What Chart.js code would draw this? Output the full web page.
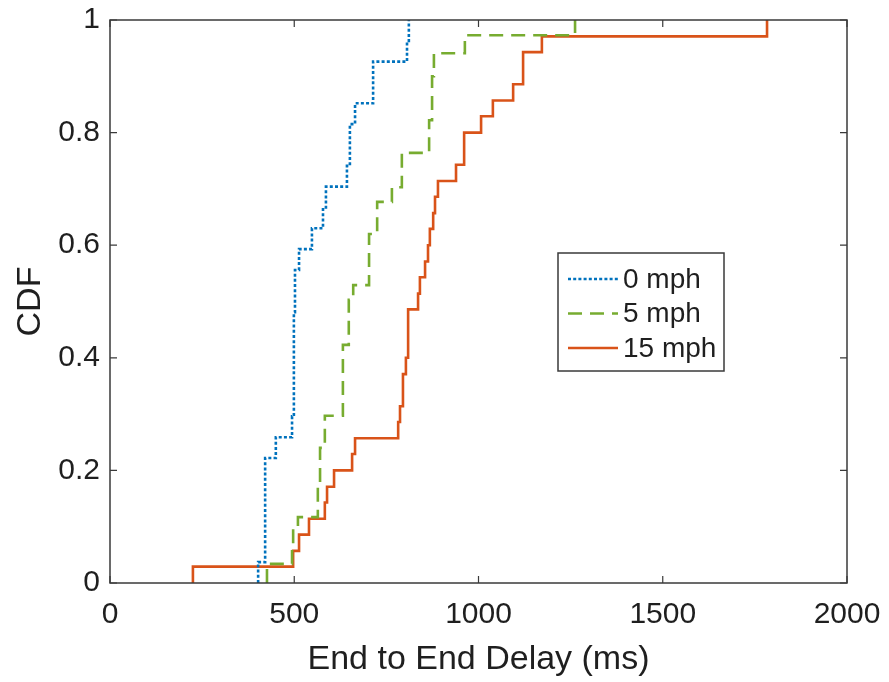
<!DOCTYPE html>
<html>
<head>
<meta charset="utf-8">
<script src="https://cdn.jsdelivr.net/npm/chart.js@4/dist/chart.umd.min.js"></script>
<style>
  html, body { margin: 0; padding: 0; background: #ffffff; }
  #wrap { width: 889px; height: 682px; }
</style>
</head>
<body>
<div id="wrap"><canvas id="c" width="889" height="682"></canvas></div>
<script>
// ---- Data ----
const seriesLabels = ["0 mph", "5 mph", "15 mph"];

const delay0mph = [402, 402, 421, 450, 494, 499, 502, 513, 548, 578, 586, 643, 651, 665, 714, 806, 811];
const cdf0mph   = [0, 0.037, 0.222, 0.259, 0.296, 0.481, 0.556, 0.593, 0.630, 0.667, 0.704, 0.741, 0.815, 0.852, 0.926, 0.963, 1];

const delay5mph = [426, 426, 494, 497, 510, 564, 570, 583, 632, 648, 660, 703, 725, 765, 792, 866, 874, 879, 963, 1262];
const cdf5mph   = [0, 0.034, 0.064, 0.098, 0.117, 0.171, 0.240, 0.297, 0.423, 0.503, 0.529, 0.62, 0.677, 0.703, 0.764, 0.822, 0.90, 0.941, 0.973, 1];

const delay15mph = [225, 225, 497, 513, 540, 583, 589, 608, 657, 665, 782, 787, 795, 803, 809, 836, 841, 855, 863, 868, 877, 882, 890, 939, 961, 1007, 1039, 1094, 1121, 1172, 1783];
const cdf15mph   = [0, 0.029, 0.057, 0.086, 0.114, 0.143, 0.171, 0.200, 0.229, 0.257, 0.286, 0.314, 0.371, 0.400, 0.486, 0.514, 0.543, 0.571, 0.600, 0.629, 0.657, 0.686, 0.714, 0.743, 0.800, 0.829, 0.857, 0.886, 0.943, 0.971, 1];

const xTickValues = [0, 500, 1000, 1500, 2000];
const yTickValues = [0, 0.2, 0.4, 0.6, 0.8, 1];
const xAxisTitle = "End to End Delay (ms)";
const yAxisTitle = "CDF";

// ---- Build datasets ----
function pts(xs, ys) { return xs.map((x, i) => ({ x: x, y: ys[i] })); }

const styles = [
  { color: "#0072BD", dash: [3, 2.2], width: 2.6 },
  { color: "#77AC30", dash: [14, 8], width: 2.6 },
  { color: "#D95319", dash: [], width: 2.6 }
];
const seriesX = [delay0mph, delay5mph, delay15mph];
const seriesY = [cdf0mph, cdf5mph, cdf15mph];

const datasets = seriesLabels.map((lab, i) => ({
  label: lab,
  data: pts(seriesX[i], seriesY[i]),
  borderColor: styles[i].color,
  borderDash: styles[i].dash,
  borderWidth: styles[i].width,
  pointRadius: 0,
  fill: false,
  stepped: 'before',
  tension: 0
}));

const AXIS = "#3a3a3a";
const TEXT = "#1f1f1f";
const FONT = "'Liberation Sans', Arial, sans-serif";

const boxPlugin = {
  id: 'boxPlugin',
  afterDraw(chart) {
    const ctx = chart.ctx;
    const a = chart.chartArea;
    const xs = chart.scales.x, ys = chart.scales.y;
    ctx.save();
    ctx.strokeStyle = AXIS;
    ctx.lineWidth = 1.5;
    ctx.setLineDash([]);
    ctx.strokeRect(a.left, a.top, a.right - a.left, a.bottom - a.top);
    const tl = 7;
    ctx.lineWidth = 1.2;
    ctx.beginPath();
    xTickValues.forEach(v => {
      const px = xs.getPixelForValue(v);
      ctx.moveTo(px, a.bottom); ctx.lineTo(px, a.bottom - tl);
      ctx.moveTo(px, a.top); ctx.lineTo(px, a.top + tl);
    });
    yTickValues.forEach(v => {
      const py = ys.getPixelForValue(v);
      ctx.moveTo(a.left, py); ctx.lineTo(a.left + tl, py);
      ctx.moveTo(a.right, py); ctx.lineTo(a.right - tl, py);
    });
    ctx.stroke();

    // Legend box (inside the plot, as in the reference)
    const lx = 558, ly = 253, lw = 166, lh = 118;
    ctx.fillStyle = "#ffffff";
    ctx.fillRect(lx, ly, lw, lh);
    ctx.lineWidth = 1.5;
    ctx.strokeStyle = AXIS;
    ctx.strokeRect(lx, ly, lw, lh);
    ctx.font = "28px " + FONT;
    ctx.textBaseline = "middle";
    ctx.textAlign = "left";
    chart.data.datasets.forEach((ds, i) => {
      const cy = ly + 26 + i * 34.5;
      ctx.beginPath();
      ctx.strokeStyle = ds.borderColor;
      ctx.lineWidth = ds.borderWidth;
      ctx.setLineDash(ds.borderDash);
      ctx.moveTo(lx + 10, cy);
      ctx.lineTo(lx + 60, cy);
      ctx.stroke();
      ctx.setLineDash([]);
      ctx.fillStyle = TEXT;
      ctx.fillText(ds.label, lx + 65, cy + 1);
    });
    ctx.restore();
  }
};

new Chart(document.getElementById('c'), {
  type: 'line',
  data: { datasets: datasets },
  plugins: [boxPlugin],
  options: {
    responsive: false,
    animation: false,
    devicePixelRatio: 1,
    layout: { padding: { left: 0, top: 20, right: 42, bottom: 0 } },
    plugins: { legend: { display: false }, tooltip: { enabled: false } },
    scales: {
      x: {
        type: 'linear',
        min: 0, max: 2000,
        afterBuildTicks(scale) { scale.ticks = xTickValues.map(v => ({ value: v })); },
        afterFit(scale) { scale.height = 99; scale.paddingLeft = 0; scale.paddingRight = 0; },
        grid: { display: false, drawTicks: false },
        border: { display: false },
        ticks: {
          padding: 14,
          color: TEXT,
          font: { family: FONT, size: 30 },
          maxRotation: 0,
          callback: v => String(v)
        },
        title: {
          display: true, text: xAxisTitle, color: TEXT,
          font: { family: FONT, size: 34 }, padding: { top: 0, bottom: 2 }
        }
      },
      y: {
        type: 'linear',
        min: 0, max: 1,
        afterBuildTicks(scale) { scale.ticks = yTickValues.map(v => ({ value: v })); },
        afterFit(scale) { scale.width = 110; scale.paddingTop = 0; scale.paddingBottom = 0; },
        grid: { display: false, drawTicks: false },
        border: { display: false },
        ticks: {
          padding: 10,
          color: TEXT,
          font: { family: FONT, size: 30 },
          callback: v => String(Number(v.toFixed(1)))
        },
        title: {
          display: true, text: yAxisTitle, color: TEXT,
          font: { family: FONT, size: 34 }, padding: { top: 10, bottom: 0 }
        }
      }
    }
  }
});
</script>
</body>
</html>
